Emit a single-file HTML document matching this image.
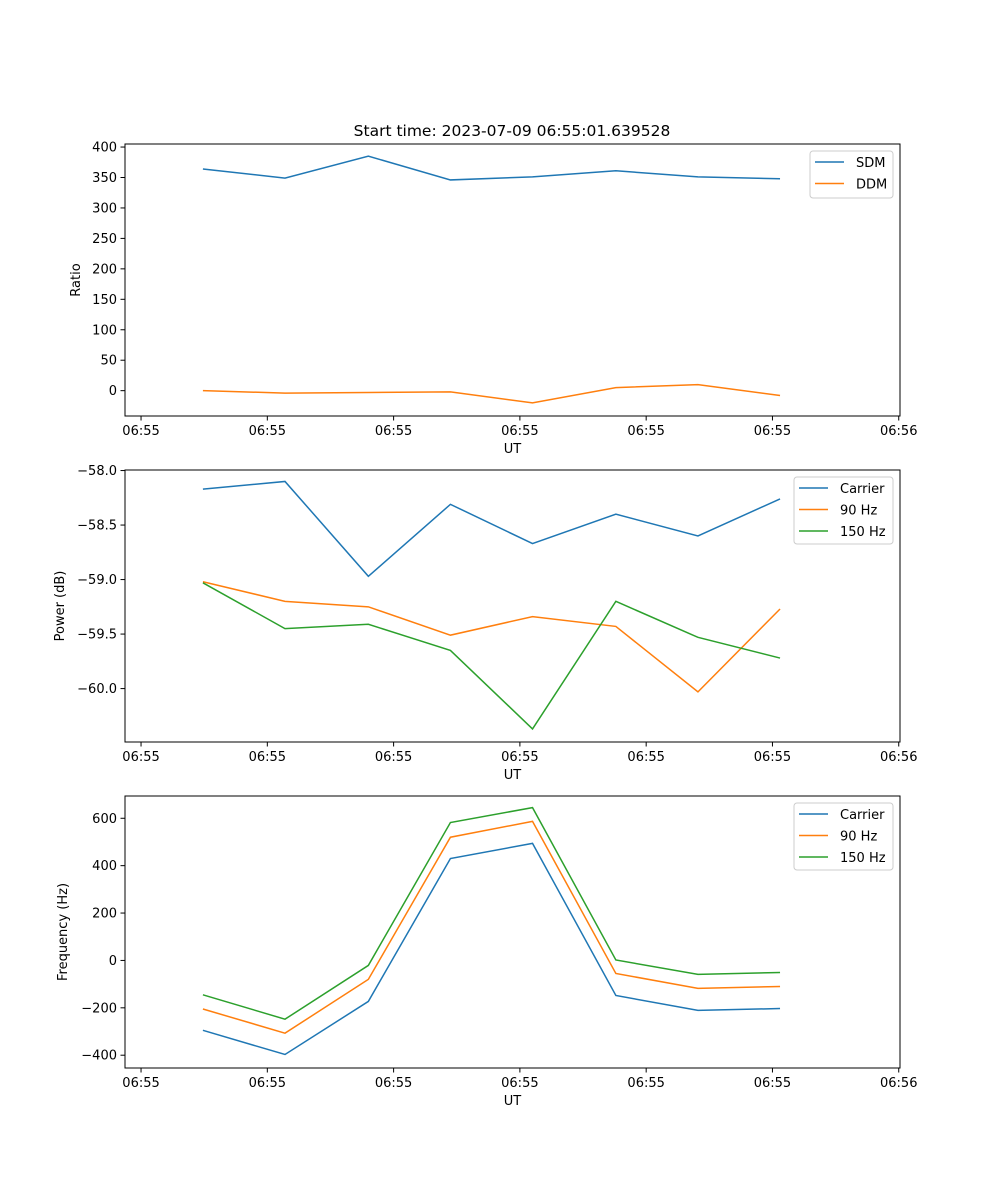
<!DOCTYPE html>
<html><head><meta charset="utf-8"><style>
body{margin:0;background:#fff}
svg{display:block;font-family:"DejaVu Sans","Liberation Sans",sans-serif}
</style></head><body>
<svg id="fig" width="1000" height="1200" viewBox="0 0 1000 1200">
<rect width="1000" height="1200" fill="#fff"/>
<text x="512" y="136" font-size="15.5" text-anchor="middle">Start time: 2023-07-09 06:55:01.639528</text>
</svg>
<script>
// data (seconds after 06:55:00)
const times = [4.9, 11.4, 18.0, 24.5, 31.0, 37.6, 44.1, 50.6];
const xTickVals = [0, 10, 20, 30, 40, 50, 60];
const xTickLabels = ["06:55","06:55","06:55","06:55","06:55","06:55","06:56"];
const sdm = [364, 349, 385, 346, 351, 361, 351, 348];
const ddm = [0, -4, -3, -2, -20, 5, 10, -8];
const powCarrier = [-58.17, -58.10, -58.97, -58.31, -58.67, -58.40, -58.60, -58.26];
const pow90 = [-59.02, -59.20, -59.25, -59.51, -59.34, -59.43, -60.03, -59.27];
const pow150 = [-59.03, -59.45, -59.41, -59.65, -60.37, -59.20, -59.53, -59.72];
const freqCarrier = [-295, -397, -173, 430, 494, -148, -211, -203];
const freq90 = [-205, -307, -80, 520, 587, -55, -118, -110];
const freq150 = [-145, -248, -21, 582, 645, 2, -59, -51];
const ratioTicks = [400,350,300,250,200,150,100,50,0];
const powTicks = [-58.0,-58.5,-59.0,-59.5,-60.0];
const powTickLabels = ["\u221258.0","\u221258.5","\u221259.0","\u221259.5","\u221260.0"];
const freqTicks = [600,400,200,0,-200,-400];
const freqTickLabels = ["600","400","200","0","\u2212200","\u2212400"];

const NS="http://www.w3.org/2000/svg";
const svg=document.getElementById('fig');
function mk(tag,attrs,parent){const e=document.createElementNS(NS,tag);for(const k in attrs)e.setAttribute(k,attrs[k]);(parent||svg).appendChild(e);return e;}
const L=125,R=900;
const xMin=-1.27,xMax=60.1;
const xs=v=>L+(v-xMin)/(xMax-xMin)*(R-L);

function panel(name,top,bot,yMin,yMax,yTicks,yLabels,ylabel,series,legend){
  const g=mk('g',{});
  
  
  const ys=v=>bot-(v-yMin)/(yMax-yMin)*(bot-top);
  series.forEach(s=>{
    const p=mk('polyline',{points:s.data.map((v,i)=>xs(times[i])+','+ys(v)).join(' '),fill:'none',stroke:s.color,'stroke-width':1.5},g);
    
    
  });
  const fr=mk('rect',{x:L,y:top,width:R-L,height:bot-top,fill:'none',stroke:'#000','stroke-width':1},g);
  
  
  xTickVals.forEach((v,i)=>{
    const x=xs(v);
    mk('line',{x1:x,x2:x,y1:bot,y2:bot+4.5,stroke:'#000'},g);
    const t=mk('text',{x:x,y:bot+19,'font-size':13,'text-anchor':'middle'},g);
    t.textContent=xTickLabels[i];
    
    
  });
  yTicks.forEach((v,i)=>{
    const y=ys(v);
    mk('line',{x1:L-4.5,x2:L,y1:y,y2:y,stroke:'#000'},g);
    const t=mk('text',{x:L-8,y:y+4.5,'font-size':13,'text-anchor':'end'},g);
    t.textContent=yLabels[i];
    
    
  });
  const xl=mk('text',{x:(L+R)/2,y:bot+37,'font-size':13,'text-anchor':'middle'},g);
  xl.textContent='UT';
  
  
  const yl=mk('text',{x:0,y:0,'font-size':13,'text-anchor':'middle',transform:`translate(${legend.ylx},${(top+bot)/2}) rotate(-90)`},g);
  yl.textContent=ylabel;
  
  
  const lg=mk('g',{},g);
  
  
  const h=7+series.length*20;
  mk('rect',{x:legend.x,y:top+7,width:R-7-legend.x,height:h,rx:3,fill:'#fff',stroke:'#ccc','stroke-width':1},lg);
  series.forEach((s,i)=>{
    const y=top+18+i*21.5;
    mk('line',{x1:legend.x+5,x2:legend.x+34,y1:y,y2:y,stroke:s.color,'stroke-width':1.5},lg);
    const t=mk('text',{x:legend.x+46,y:y+5,'font-size':13},lg);
    t.textContent=s.label;
    
    
  });
}
const C1='#1f77b4',C2='#ff7f0e',C3='#2ca02c';
panel('ratio',144,416,-41.6,405,ratioTicks,ratioTicks.map(String),'Ratio',
  [{key:'sdm',data:sdm,color:C1,label:'SDM'},{key:'ddm',data:ddm,color:C2,label:'DDM'}],{x:810,ylx:80});
panel('power',470,742,-60.49,-57.995,powTicks,powTickLabels,'Power (dB)',
  [{key:'carrier',data:powCarrier,color:C1,label:'Carrier'},{key:'90hz',data:pow90,color:C2,label:'90 Hz'},{key:'150hz',data:pow150,color:C3,label:'150 Hz'}],{x:794,ylx:64});
panel('frequency',796,1068,-454,694,freqTicks,freqTickLabels,'Frequency (Hz)',
  [{key:'carrier',data:freqCarrier,color:C1,label:'Carrier'},{key:'90hz',data:freq90,color:C2,label:'90 Hz'},{key:'150hz',data:freq150,color:C3,label:'150 Hz'}],{x:794,ylx:67});
</script>
</body></html>
